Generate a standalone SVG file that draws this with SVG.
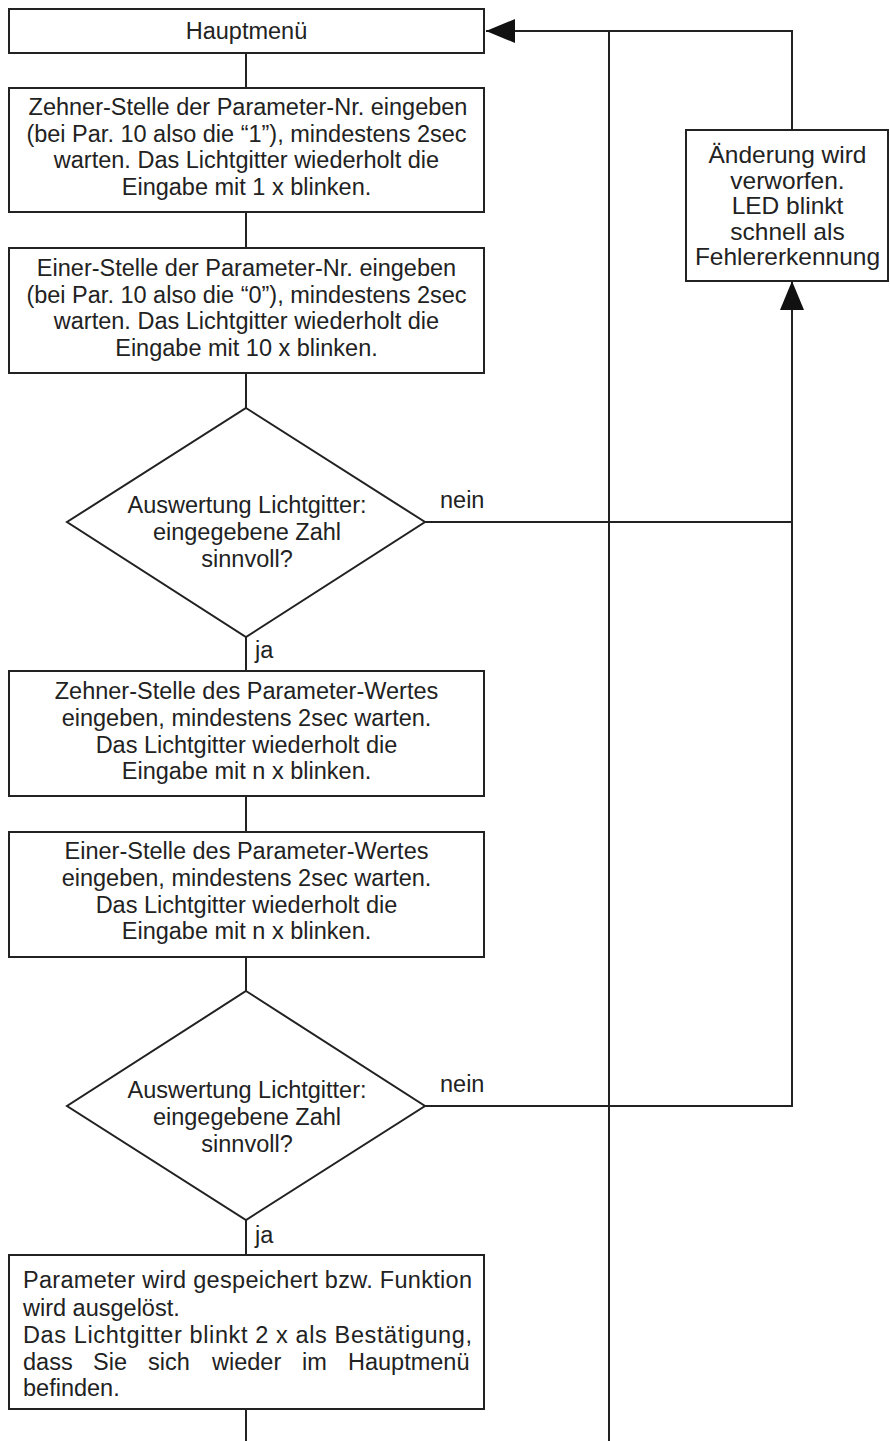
<svg xmlns="http://www.w3.org/2000/svg" width="890" height="1441" viewBox="0 0 890 1441">
<defs>
<style>
.box{fill:#fff;stroke:#222;stroke-width:2}
.ln{fill:none;stroke:#222;stroke-width:2}
text{font-family:"Liberation Sans",Arial,sans-serif;font-size:23.5px;fill:#222}
.c{text-anchor:middle}
.r{font-size:24.5px}
</style>
<marker id="ah" markerUnits="userSpaceOnUse" markerWidth="29" markerHeight="24" refX="29" refY="12" orient="auto" viewBox="0 0 29 24">
<path d="M0,0 L29,12 L0,24 z" fill="#111"/>
</marker>
</defs>
<rect width="890" height="1441" fill="#fff"/>
<g id="connectors">
<path class="ln" d="M246,53 V88"/>
<path class="ln" d="M246,212 V248"/>
<path class="ln" d="M246,373 V408"/>
<path class="ln" d="M246,637 V671"/>
<path class="ln" d="M246,796 V832"/>
<path class="ln" d="M246,957 V991"/>
<path class="ln" d="M246,1220 V1255"/>
<path class="ln" d="M246,1409 V1441"/>
<path class="ln" d="M425,522 H792"/>
<path class="ln" d="M425,1106 H792 V281" marker-end="url(#ah)"/>
<path class="ln" d="M792,130 V31 H486" marker-end="url(#ah)"/>
<path class="ln" d="M609,31 V1441"/>
<text x="440" y="508">nein</text>
<text x="255" y="658">ja</text>
<text x="440" y="1092">nein</text>
<text x="255" y="1243">ja</text>
</g>
<g id="hauptmenue">
<rect class="box" x="9" y="9" width="475" height="44"/>
<text class="c" x="246.5" y="39">Hauptmenü</text>
</g>
<g id="box1">
<rect class="box" x="9" y="88" width="475" height="124"/>
<text class="c" x="248" y="115">Zehner-Stelle der Parameter-Nr. eingeben</text>
<text class="c" x="246.5" y="141.5">(bei Par. 10 also die “1”), mindestens 2sec</text>
<text class="c" x="246.5" y="168">warten. Das Lichtgitter wiederholt die</text>
<text class="c" x="246.5" y="195">Eingabe mit 1 x blinken.</text>
</g>
<g id="box2">
<rect class="box" x="9" y="248" width="475" height="125"/>
<text class="c" x="246.5" y="276">Einer-Stelle der Parameter-Nr. eingeben</text>
<text class="c" x="246.5" y="302.5">(bei Par. 10 also die “0”), mindestens 2sec</text>
<text class="c" x="246.5" y="329">warten. Das Lichtgitter wiederholt die</text>
<text class="c" x="246.5" y="356">Eingabe mit 10 x blinken.</text>
</g>
<g id="decision1">
<polygon class="box" points="246,408 425,522 246,637 67,522"/>
<text class="c" x="247" y="513">Auswertung Lichtgitter:</text>
<text class="c" x="247" y="540">eingegebene Zahl</text>
<text class="c" x="247" y="567">sinnvoll?</text>
</g>
<g id="box3">
<rect class="box" x="9" y="671" width="475" height="125"/>
<text class="c" x="246.5" y="699">Zehner-Stelle des Parameter-Wertes</text>
<text class="c" x="246.5" y="726">eingeben, mindestens 2sec warten.</text>
<text class="c" x="246.5" y="753">Das Lichtgitter wiederholt die</text>
<text class="c" x="246.5" y="779">Eingabe mit n x blinken.</text>
</g>
<g id="box4">
<rect class="box" x="9" y="832" width="475" height="125"/>
<text class="c" x="246.5" y="859">Einer-Stelle des Parameter-Wertes</text>
<text class="c" x="246.5" y="886">eingeben, mindestens 2sec warten.</text>
<text class="c" x="246.5" y="913">Das Lichtgitter wiederholt die</text>
<text class="c" x="246.5" y="939">Eingabe mit n x blinken.</text>
</g>
<g id="decision2">
<polygon class="box" points="246,991 425,1106 246,1220 67,1106"/>
<text class="c" x="247" y="1098">Auswertung Lichtgitter:</text>
<text class="c" x="247" y="1125">eingegebene Zahl</text>
<text class="c" x="247" y="1152">sinnvoll?</text>
</g>
<g id="box5">
<rect class="box" x="9" y="1255" width="475" height="154"/>
<text x="23" y="1288" textLength="449" lengthAdjust="spacing">Parameter wird gespeichert bzw. Funktion</text>
<text x="23" y="1316">wird ausgelöst.</text>
<text x="23" y="1343" textLength="449" lengthAdjust="spacing">Das Lichtgitter blinkt 2 x als Bestätigung,</text>
<text y="1370"><tspan x="23">dass</tspan><tspan x="93">Sie</tspan><tspan x="148">sich</tspan><tspan x="212">wieder</tspan><tspan x="302">im</tspan><tspan x="348">Hauptmenü</tspan></text>
<text x="23" y="1396">befinden.</text>
</g>
<g id="fehler">
<rect class="box" x="686" y="130" width="202" height="151"/>
<text class="c r" x="787.5" y="163">Änderung wird</text>
<text class="c r" x="787.5" y="188.5">verworfen.</text>
<text class="c r" x="787.5" y="214">LED blinkt</text>
<text class="c r" x="787.5" y="240">schnell als</text>
<text class="c r" x="787.5" y="265">Fehlererkennung</text>
</g>
</svg>
